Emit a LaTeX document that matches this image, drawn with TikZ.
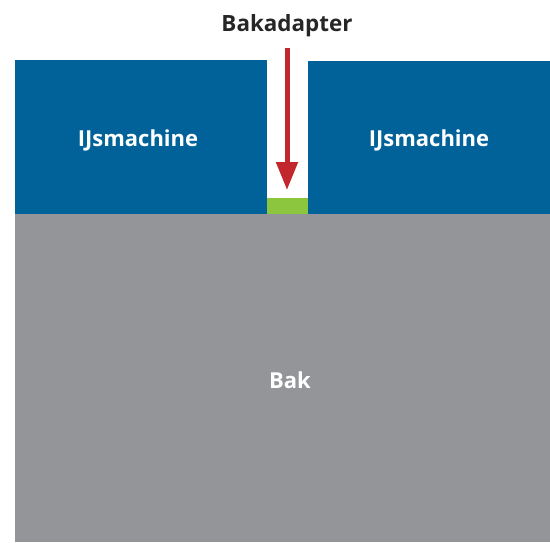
\documentclass[tikz,border=0pt]{standalone}
\usepackage{fontspec}
\setmainfont{Open Sans}
\usetikzlibrary{arrows.meta}
\definecolor{iceblue}{HTML}{006298}
\definecolor{tankgray}{HTML}{939598}
\definecolor{adaptgreen}{HTML}{8CC63F}
\definecolor{arrowred}{HTML}{C1272D}
\tikzset{
  lbl/.style={font=\fontsize{22}{26}\selectfont\bfseries, text=white, inner sep=0pt, anchor=base},
  blk/.style={font=\fontsize{22.4}{26}\selectfont\bfseries, text=black!85, inner sep=0pt, anchor=base},
}
\begin{document}
\begin{tikzpicture}[x=1pt,y=-1pt]
\useasboundingbox (0,0) rectangle (550,542);
\fill[tankgray] (15,214) rectangle (550,542);
\fill[iceblue] (15,60) rectangle (266.5,214);
\fill[iceblue] (307.7,61) rectangle (550,214);
\fill[adaptgreen] (266.5,198) rectangle (307.7,214);
\node[lbl] (m1) at (138,146.5) {IJsmachine};
\node[lbl] (m2) at (429,146.5) {IJsmachine};
\node[lbl] (bak) at (290,388) {Bak};
\node[blk] (title) at (287,31) {Bakadapter};
\coordinate (tip) at (287,190);
\coordinate (start) at (287,48);
\draw[arrowred, line width=5pt, -{Triangle[width=21pt,length=28pt]}] (start) -- (tip);
\end{tikzpicture}
\end{document}
